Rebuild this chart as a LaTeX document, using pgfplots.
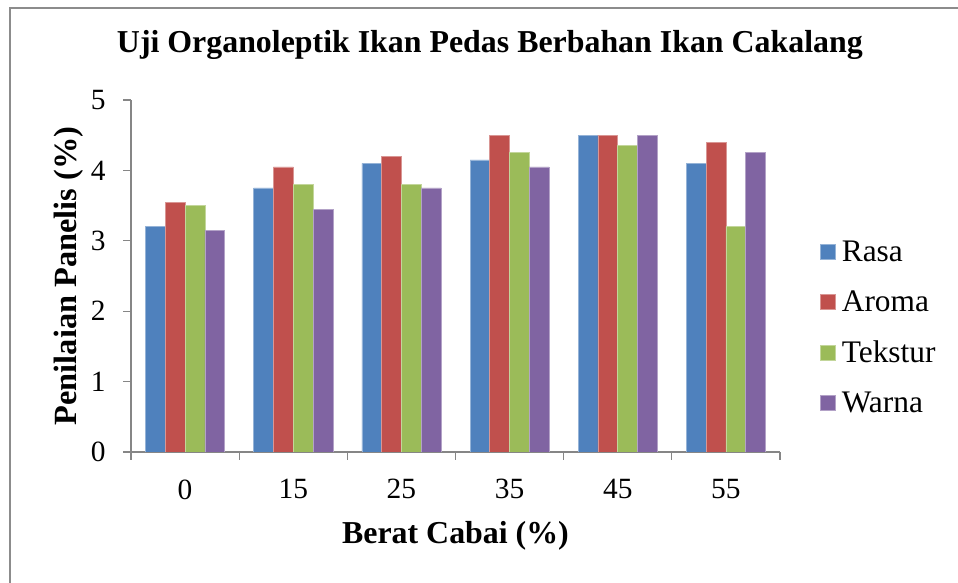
\documentclass[border=0pt]{standalone}
\usepackage{fontspec}
\setmainfont{Liberation Serif}
\usepackage{pgfplots}
\pgfplotsset{compat=1.18}
\definecolor{cRasa}{HTML}{4F81BD}
\definecolor{cAroma}{HTML}{C0504D}
\definecolor{cTekstur}{HTML}{9BBB59}
\definecolor{cWarna}{HTML}{8064A2}
\definecolor{axgray}{HTML}{868686}
\definecolor{framegray}{HTML}{8C8C8C}
\begin{document}
\begin{tikzpicture}[x=1bp,y=1bp]
\useasboundingbox (0,0) rectangle (958,583);
\draw[framegray, line width=2.5bp] (10,-2) -- (10,575) -- (960,575);
\begin{axis}[
  at={(131bp,131bp)}, anchor=south west,
  scale only axis, width=649bp, height=352bp,
  ybar=0pt, bar width=0.183,
  xmin=-0.5, xmax=5.5, ymin=0, ymax=5,
  xtick={-0.5,0.5,1.5,2.5,3.5,4.5,5.5},
  xticklabels={0,15,25,35,45,55},
  x tick label as interval,
  ytick={0,1,2,3,4,5},
  axis x line*=bottom, axis y line*=left,
  axis line style={axgray, line width=1.2bp},
  tick style={axgray, line width=1.2bp},
  tick align=outside, major tick length=8bp,
  /pgf/number format/assume math mode=true,
  ticklabel style={font=\fontsize{29.5}{32}\selectfont},
  yticklabel style={xshift=-14bp},
  xticklabel style={yshift=-16bp},
  title={\textbf{Uji Organoleptik Ikan Pedas Berbahan Ikan Cakalang}},
  title style={font=\fontsize{32}{35}\selectfont, at={(axis description cs:0.553,1.119)}, anchor=base},
  xlabel={\textbf{Berat Cabai (\%)}},
  xlabel style={font=\fontsize{32}{35}\selectfont, at={(axis description cs:0.5,-0.261)}, anchor=base},
  ylabel={\textbf{Penilaian Panelis (\%)}},
  ylabel style={font=\fontsize{32.5}{35}\selectfont, at={(axis description cs:-0.0847,0.5)}, anchor=base},
  legend style={at={(axis description cs:1.0617,0.354)}, anchor=west, draw=none, fill=none,
    inner sep=0pt, font=\fontsize{31.5}{34}\selectfont, row sep=24bp, column sep=4bp,
    legend cell align=left},
  legend image code/.code={\fill[#1] (0bp,-7.5bp) rectangle (15bp,7.5bp);},
  every axis plot/.append style={line width=0.6bp},
]
\addplot[fill=cRasa, draw=cRasa!60!white] coordinates {(0,3.2) (1,3.75) (2,4.1) (3,4.15) (4,4.5) (5,4.1)};
\addplot[fill=cAroma, draw=cAroma!60!white] coordinates {(0,3.55) (1,4.05) (2,4.2) (3,4.5) (4,4.5) (5,4.4)};
\addplot[fill=cTekstur, draw=cTekstur!60!white] coordinates {(0,3.5) (1,3.8) (2,3.8) (3,4.25) (4,4.35) (5,3.2)};
\addplot[fill=cWarna, draw=cWarna!60!white] coordinates {(0,3.15) (1,3.45) (2,3.75) (3,4.05) (4,4.5) (5,4.25)};
\legend{Rasa,Aroma,Tekstur,Warna}
\end{axis}
\end{tikzpicture}
\end{document}
